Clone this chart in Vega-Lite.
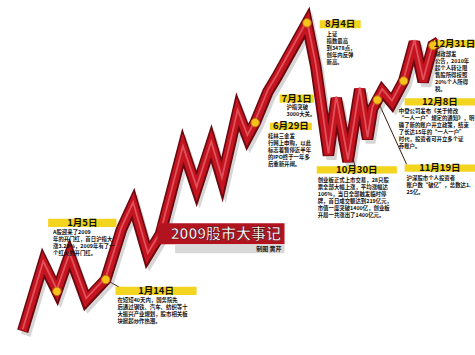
{
  "$schema": "https://vega.github.io/schema/vega-lite/v6.json",
  "width": 475,
  "height": 355,
  "autosize": {"type": "fit", "contains": "padding"},
  "padding": 0,
  "background": "#ffffff",
  "config": {"view": {"stroke": null}},
  "datasets": {
    "path": [
      {"pos": 12, "level": 3}, {"pos": 33, "level": 78}, {"pos": 47, "level": 47},
      {"pos": 60, "level": 87}, {"pos": 77, "level": 37}, {"pos": 97, "level": 60},
      {"pos": 113, "level": 115}, {"pos": 125, "level": 143}, {"pos": 140, "level": 87},
      {"pos": 153, "level": 110}, {"pos": 176, "level": 205}, {"pos": 190, "level": 160},
      {"pos": 205, "level": 210}, {"pos": 216, "level": 170}, {"pos": 232, "level": 245},
      {"pos": 242, "level": 217}, {"pos": 250, "level": 233}, {"pos": 263, "level": 267},
      {"pos": 272, "level": 283}, {"pos": 303, "level": 343}, {"pos": 312, "level": 295},
      {"pos": 325, "level": 197}, {"pos": 333, "level": 260}, {"pos": 345, "level": 190},
      {"pos": 357, "level": 270}, {"pos": 365, "level": 215}, {"pos": 370, "level": 248},
      {"pos": 380, "level": 268}, {"pos": 390, "level": 255}, {"pos": 402, "level": 279},
      {"pos": 413, "level": 322}, {"pos": 422, "level": 278}, {"pos": 432, "level": 318},
      {"pos": 438, "level": 322}
    ],
    "dots": [
      {"event": "1月5日", "pos": 47, "level": 47},
      {"event": "1月14日", "pos": 97, "level": 60},
      {"event": "6月29日", "pos": 250, "level": 233},
      {"event": "8月4日", "pos": 303, "level": 343},
      {"event": "11月19日", "pos": 375, "level": 258},
      {"event": "12月8日", "pos": 402, "level": 279},
      {"event": "12月31日", "pos": 432, "level": 318}
    ],
    "pointers": [
      {"event": "1月14日", "pos": 97, "level": 60, "pos2": 115, "level2": 49},
      {"event": "10月30日", "pos": 350, "level": 196, "pos2": 352, "level2": 185},
      {"event": "11月19日", "pos": 375, "level": 258, "pos2": 405, "level2": 187}
    ],
    "bars": [
      {"event": "1月5日", "x1": 38, "x2": 108, "y1": 127, "y2": 118},
      {"event": "1月14日", "x1": 107, "x2": 190, "y1": 52, "y2": 43},
      {"event": "6月29日", "x1": 265, "x2": 308, "y1": 233, "y2": 225},
      {"event": "7月1日", "x1": 275, "x2": 310, "y1": 264, "y2": 255},
      {"event": "8月4日", "x1": 316, "x2": 358, "y1": 346, "y2": 337},
      {"event": "12月31日", "x1": 433, "x2": 475, "y1": 324, "y2": 316},
      {"event": "12月8日", "x1": 403, "x2": 475, "y1": 260, "y2": 252},
      {"event": "11月19日", "x1": 403, "x2": 475, "y1": 187, "y2": 179},
      {"event": "10月30日", "x1": 313, "x2": 395, "y1": 185, "y2": 177}
    ],
    "notes": [
      {"event": "1月5日", "pos": 43, "level": 115, "text": "　　A股迎来了2009\n年的开门红，首日沪指大\n涨3.29%，2009年有了一\n个红火的开门红。"},
      {"event": "1月14日", "pos": 109, "level": 40, "text": "　　在短短40天内，国务院先\n后通过钢铁、汽车、纺织等十\n大振兴产业规划，股市相关板\n块掀起炒作热潮。"},
      {"event": "6月29日", "pos": 263, "level": 221, "text": "　　桂林三金发\n行网上申购，以此\n标志着暂停近半年\n的IPO终于一年多\n后重新开闸。"},
      {"event": "7月1日", "pos": 282, "level": 252, "text": "　沪指突破\n3000大关。"},
      {"event": "8月4日", "pos": 323, "level": 333, "text": "　　上证\n指数最高\n到3478点，\n创年内反弹\n新高。"},
      {"event": "12月31日", "pos": 434, "level": 311, "text": "　　财政部发\n公告，2010年\n起个人转让限\n售股所得按照\n20%个人所得\n税。"},
      {"event": "12月8日", "pos": 397, "level": 248, "text": "　　中登公司发布《关于修改\n“一人一户”规定的通知》，明\n确了新的账户开立政策，结束\n了长达15年的“一人一户”\n时代，投资者可开立多个证\n券账户。"},
      {"event": "11月19日", "pos": 405, "level": 174, "text": "　　沪深股市个人投资者\n账户数“破亿”，总数达1.\n25亿。"},
      {"event": "10月30日", "pos": 314, "level": 172, "text": "　　创业板正式上市交易，28只股\n票全部大幅上涨，平均涨幅达\n106%，当日全部触发临时停\n牌，首日成交额达到219亿元，\n市值一度突破1400亿，创业板\n开局一共涨出了1400亿元。"}
    ],
    "banner": [
      {"x1": 150, "x2": 280, "y1": 122, "y2": 99, "fill": "#b3121f"},
      {"x1": 168, "x2": 280, "y1": 99, "y2": 89, "fill": "#d9d9d9"}
    ]
  },
  "encoding": {
    "x": {"type": "quantitative", "axis": null, "scale": {"domain": [0, 475], "nice": false, "zero": false}},
    "y": {"type": "quantitative", "axis": null, "scale": {"domain": [0, 355], "nice": false, "zero": false}}
  },
  "layer": [
    {
      "data": {"name": "pointers"},
      "mark": {"type": "rule", "color": "#3a1a10", "strokeWidth": 1},
      "encoding": {
        "x": {"field": "pos", "type": "quantitative"},
        "y": {"field": "level", "type": "quantitative"},
        "x2": {"field": "pos2"},
        "y2": {"field": "level2"}
      }
    },
    {
      "data": {"name": "path"},
      "mark": {"type": "line", "color": "#8a8a8a", "strokeWidth": 10, "opacity": 0.35, "xOffset": 3, "yOffset": 4, "strokeJoin": "miter"},
      "encoding": {
        "x": {"field": "pos", "type": "quantitative"},
        "y": {"field": "level", "type": "quantitative"}
      }
    },
    {
      "data": {"name": "path"},
      "mark": {"type": "line", "color": "#6e0810", "strokeWidth": 11.5, "strokeJoin": "miter"},
      "encoding": {
        "x": {"field": "pos", "type": "quantitative"},
        "y": {"field": "level", "type": "quantitative"}
      }
    },
    {
      "data": {"name": "path"},
      "mark": {"type": "line", "color": "#c3141f", "strokeWidth": 8, "strokeJoin": "miter", "yOffset": -0.5},
      "encoding": {
        "x": {"field": "pos", "type": "quantitative"},
        "y": {"field": "level", "type": "quantitative"}
      }
    },
    {
      "data": {"name": "path"},
      "mark": {"type": "line", "color": "#e9606a", "strokeWidth": 1.8, "strokeJoin": "miter", "yOffset": -2, "opacity": 0.8},
      "encoding": {
        "x": {"field": "pos", "type": "quantitative"},
        "y": {"field": "level", "type": "quantitative"}
      }
    },
    {
      "data": {"name": "dots"},
      "mark": {"type": "point", "filled": true, "shape": "circle", "size": 70, "fill": "#f6c21c", "stroke": "#c27a0c", "strokeWidth": 1, "opacity": 1},
      "encoding": {
        "x": {"field": "pos", "type": "quantitative"},
        "y": {"field": "level", "type": "quantitative"}
      }
    },
    {
      "data": {"name": "bars"},
      "mark": {"type": "rect", "fill": "#f3d41e"},
      "encoding": {
        "x": {"field": "x1", "type": "quantitative"},
        "x2": {"field": "x2"},
        "y": {"field": "y1", "type": "quantitative"},
        "y2": {"field": "y2"}
      }
    },
    {
      "data": {"name": "bars"},
      "transform": [
        {"calculate": "(datum.x1 + datum.x2) / 2", "as": "cx"},
        {"calculate": "(datum.y1 + datum.y2) / 2", "as": "cy"}
      ],
      "mark": {"type": "text", "font": "Noto Sans CJK SC", "fontWeight": "bold", "fontSize": 9.5, "color": "#111111", "align": "center", "baseline": "middle"},
      "encoding": {
        "x": {"field": "cx", "type": "quantitative"},
        "y": {"field": "cy", "type": "quantitative"},
        "text": {"field": "event", "type": "nominal"}
      }
    },
    {
      "data": {"name": "notes"},
      "mark": {"type": "text", "font": "Noto Sans CJK SC", "fontWeight": "bold", "fontSize": 5.4, "lineHeight": 7, "lineBreak": "\n", "color": "#111111", "align": "left", "baseline": "top"},
      "encoding": {
        "x": {"field": "pos", "type": "quantitative"},
        "y": {"field": "level", "type": "quantitative"},
        "text": {"field": "text", "type": "nominal"}
      }
    },
    {
      "data": {"name": "banner"},
      "mark": {"type": "rect"},
      "encoding": {
        "x": {"field": "x1", "type": "quantitative"},
        "x2": {"field": "x2"},
        "y": {"field": "y1", "type": "quantitative"},
        "y2": {"field": "y2"},
        "fill": {"field": "fill", "type": "nominal", "scale": null}
      }
    },
    {
      "data": {"values": [{"pos": 220, "level": 110, "label": "2009股市大事记"}]},
      "mark": {"type": "text", "font": "Noto Sans CJK SC", "fontWeight": "bold", "fontSize": 15, "color": "#ffffff", "stroke": "#5a0008", "strokeWidth": 0.6, "align": "center", "baseline": "middle"},
      "encoding": {
        "x": {"field": "pos", "type": "quantitative"},
        "y": {"field": "level", "type": "quantitative"},
        "text": {"field": "label", "type": "nominal"}
      }
    },
    {
      "data": {"values": [{"pos": 277, "level": 94, "label": "制图 黄芹"}]},
      "mark": {"type": "text", "font": "Noto Sans CJK SC", "fontWeight": "bold", "fontSize": 6, "color": "#222222", "align": "right", "baseline": "middle"},
      "encoding": {
        "x": {"field": "pos", "type": "quantitative"},
        "y": {"field": "level", "type": "quantitative"},
        "text": {"field": "label", "type": "nominal"}
      }
    }
  ]
}
